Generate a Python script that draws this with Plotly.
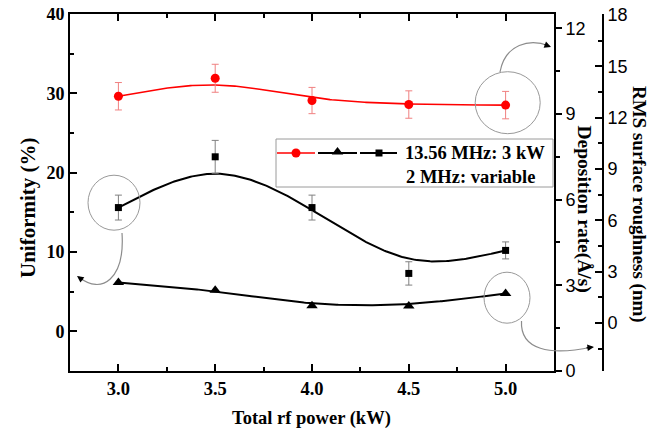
import numpy as np
import plotly.graph_objects as go

# ---------------- data ----------------
power = [3.0, 3.5, 4.0, 4.5, 5.0]                 # Total rf power (kW)
dep_rate = [9.62, 10.25, 9.47, 9.33, 9.31]        # Deposition rate (Å/s)
dep_err = [0.48, 0.49, 0.46, 0.48, 0.48]
uniformity = [15.6, 22.0, 15.6, 7.3, 10.2]        # Uniformity (%)
unif_err = [1.57, 2.07, 1.57, 1.47, 1.07]
rms = [2.37, 1.92, 1.01, 0.99, 1.73]              # RMS surface roughness (nm)

x_ticks = [3.0, 3.5, 4.0, 4.5, 5.0]
legend_line1 = "13.56 MHz: 3 kW"
legend_line2 = "2 MHz: variable"


def bspline(xs, ys, n=60):
    """Uniform cubic B-spline with the data points as control points and
    reflected end points (Origin 'B-spline' line style)."""
    P = np.column_stack([xs, ys]).astype(float)
    Q = np.vstack([2 * P[0] - P[1], P, 2 * P[-1] - P[-2]])
    t = np.linspace(0, 1, n)
    b0 = (1 - t) ** 3 / 6
    b1 = (3 * t ** 3 - 6 * t ** 2 + 4) / 6
    b2 = (-3 * t ** 3 + 3 * t ** 2 + 3 * t + 1) / 6
    b3 = t ** 3 / 6
    segs = []
    for i in range(len(P) - 1):
        seg = (b0[:, None] * Q[i] + b1[:, None] * Q[i + 1]
               + b2[:, None] * Q[i + 2] + b3[:, None] * Q[i + 3])
        segs.append(seg if i == 0 else seg[1:])
    C = np.vstack(segs)
    return C[:, 0], C[:, 1]


# ---------------- layout geometry (reference pixels) ----------------
OFF = 8                      # page body margin of the browser
W_FIG, H_FIG = 665 - OFF, 434 - OFF
L, T = 70, 14
PLOT_R = 554
RMS_X = 603
BOTTOM = 371
W = RMS_X - L
H = BOTTOM - T


def px(x):
    return (x - L) / W


def py(y):
    return (BOTTOM - y) / H


SERIF = "Liberation Serif"
SANS = "Liberation Sans"
RED = "#ff0000"

fig = go.Figure()

# curves
bx, by = bspline(power, dep_rate)
fig.add_trace(go.Scatter(x=bx, y=by, mode="lines", yaxis="y2",
                         line=dict(color=RED, width=1.6), hoverinfo="skip"))
bx, by = bspline(power, uniformity)
fig.add_trace(go.Scatter(x=bx, y=by, mode="lines", yaxis="y",
                         line=dict(color="black", width=2), hoverinfo="skip"))
bx, by = bspline(power, rms)
fig.add_trace(go.Scatter(x=bx, y=by, mode="lines", yaxis="y3",
                         line=dict(color="black", width=2), hoverinfo="skip"))

# points
fig.add_trace(go.Scatter(x=power, y=dep_rate, mode="markers", yaxis="y2",
                         marker=dict(symbol="circle", size=9, color=RED),
                         error_y=dict(type="data", array=dep_err, color="#f08080",
                                      thickness=1, width=3.5)))
fig.add_trace(go.Scatter(x=power, y=uniformity, mode="markers", yaxis="y",
                         marker=dict(symbol="square", size=7, color="black"),
                         error_y=dict(type="data", array=unif_err, color="#808080",
                                      thickness=1, width=3.5)))
fig.add_trace(go.Scatter(x=power, y=rms, mode="markers", yaxis="y3",
                         marker=dict(symbol="triangle-up", size=10, color="black")))

# legend samples on a pixel-mapped overlay subplot
leg_y = 153
fig.add_trace(go.Scatter(x=[277, 315], y=[leg_y, leg_y], xaxis="x2", yaxis="y4", mode="lines",
                         line=dict(color=RED, width=1.6), hoverinfo="skip"))
fig.add_trace(go.Scatter(x=[296], y=[leg_y], xaxis="x2", yaxis="y4", mode="markers",
                         marker=dict(symbol="circle", size=9, color=RED), hoverinfo="skip"))
fig.add_trace(go.Scatter(x=[318, 357], y=[leg_y, leg_y], xaxis="x2", yaxis="y4", mode="lines",
                         line=dict(color="black", width=2), hoverinfo="skip"))
fig.add_trace(go.Scatter(x=[337.5], y=[leg_y - 1], xaxis="x2", yaxis="y4", mode="markers",
                         marker=dict(symbol="triangle-up", size=10, color="black"), hoverinfo="skip"))
fig.add_trace(go.Scatter(x=[360, 397], y=[leg_y, leg_y], xaxis="x2", yaxis="y4", mode="lines",
                         line=dict(color="black", width=2), hoverinfo="skip"))
fig.add_trace(go.Scatter(x=[379], y=[leg_y], xaxis="x2", yaxis="y4", mode="markers",
                         marker=dict(symbol="square", size=7, color="black"), hoverinfo="skip"))

shapes = []
# legend box
shapes.append(dict(type="rect", xref="paper", yref="paper",
                   x0=px(276), x1=px(553), y0=py(187), y1=py(139),
                   line=dict(color="#9a9a9a", width=1), fillcolor="white", layer="below"))
# circles
for cx, cy, rx, ry in [(114, 202.7, 26, 27.5), (507.7, 102.7, 32.5, 31), (507, 297.7, 23, 25.5)]:
    shapes.append(dict(type="circle", xref="paper", yref="paper",
                       x0=px(cx - rx), x1=px(cx + rx), y0=py(cy + ry), y1=py(cy - ry),
                       line=dict(color="#999999", width=1)))


def path(pts):
    (x0, y0), (x1, y1), (x2, y2), (x3, y3) = pts
    return (f"M {px(x0)},{py(y0)} C {px(x1)},{py(y1)} {px(x2)},{py(y2)} {px(x3)},{py(y3)}")


arrow_paths = [
    [(122, 233), (125, 278), (102, 296), (79, 277)],
    [(500, 72), (505, 44), (530, 38), (549, 46)],
    [(521.5, 321), (520, 350), (550, 356), (592, 347)],
]
for pts in arrow_paths:
    shapes.append(dict(type="path", xref="paper", yref="paper", path=path(pts),
                       line=dict(color="#8c8c8c", width=1.2)))

annotations = []
for tip, (ax, ay) in [((77, 276), (7, 5)), ((551, 47), (-8, -3)), ((594, 347), (-9, 1))]:
    annotations.append(dict(xref="paper", yref="paper", x=px(tip[0]), y=py(tip[1]),
                            ax=ax, ay=ay, text="", showarrow=True, arrowhead=2,
                            arrowsize=1.1, arrowwidth=1.2, arrowcolor="black"))


def bold(size):
    return dict(family=SERIF, size=size, color="black", weight="bold")


def title(x, y, text, size, angle=0, xanchor="center"):
    return dict(xref="paper", yref="paper", x=px(x), y=py(y), text=text,
                textangle=angle, showarrow=False, xanchor=xanchor, yanchor="middle",
                font=bold(size))


annotations += [
    title(28, 208, "Uniformity (%)", 21, -90),
    title(311, 418, "Total rf power (kW)", 18.5),
    title(584, 208.5, "Deposition rate(Å/s)", 19.5, 90),
    title(639, 204, "RMS surface roughness (nm)", 19, 90),
    title(403, 153, legend_line1, 18.5, xanchor="left"),
    title(404, 176.5, legend_line2, 18.5, xanchor="left"),
]

x_dom = (PLOT_R - L) / W

fig.update_layout(
    width=W_FIG, height=H_FIG,
    margin=dict(l=L - OFF, r=665 - RMS_X, t=T - OFF, b=434 - BOTTOM, autoexpand=False),
    paper_bgcolor="white", plot_bgcolor="rgba(0,0,0,0)",
    showlegend=False,
    shapes=shapes, annotations=annotations,
    xaxis=dict(domain=[0, x_dom], range=[2.75, 5.25], tickvals=x_ticks, tickformat=".1f",
               ticks="inside", ticklen=7, tickwidth=1.5, tickcolor="black",
               showline=True, linewidth=2, linecolor="black", mirror="ticks",
               showgrid=False, zeroline=False, automargin=False, ticklabeloverflow="allow",
               minor=dict(dtick=0.25, ticks="inside", ticklen=4, tickwidth=1.5, tickcolor="black"),
               tickfont=bold(18.5)),
    yaxis=dict(range=[-5, 40], dtick=10, ticks="inside", ticklen=7, tickwidth=1.5, tickcolor="black",
               showline=True, linewidth=2, linecolor="black", showgrid=False, zeroline=False,
               automargin=False, ticklabeloverflow="allow",
               minor=dict(dtick=5, ticks="inside", ticklen=4, tickwidth=1.5, tickcolor="black"),
               tickfont=bold(18)),
    yaxis2=dict(overlaying="y", side="right", anchor="x", range=[0, 12.5], dtick=3,
                ticks="outside", ticklen=6, tickwidth=1.5, tickcolor="black",
                showline=True, linewidth=2, linecolor="black", showgrid=False, zeroline=False,
                automargin=False, ticklabeloverflow="allow",
                minor=dict(dtick=1.5, ticks="outside", ticklen=4, tickwidth=1.5, tickcolor="black"),
                tickfont=dict(family=SANS, size=18, color="black")),
    yaxis3=dict(overlaying="y", side="right", anchor="free", position=1.0, range=[-2.8, 18.05], dtick=3,
                ticks="inside", ticklen=7, tickwidth=1.5, tickcolor="black",
                showline=True, linewidth=2, linecolor="black", showgrid=False, zeroline=False,
                automargin=False, ticklabeloverflow="allow",
                minor=dict(dtick=1.5, ticks="inside", ticklen=4, tickwidth=1.5, tickcolor="black"),
                tickfont=dict(family=SANS, size=18, color="black")),
    xaxis2=dict(domain=[0, 1], range=[L, RMS_X], visible=False, anchor="y4", automargin=False),
    yaxis4=dict(domain=[0, 1], range=[BOTTOM, T], visible=False, anchor="x2", automargin=False),
)

fig.write_html("out.html")
